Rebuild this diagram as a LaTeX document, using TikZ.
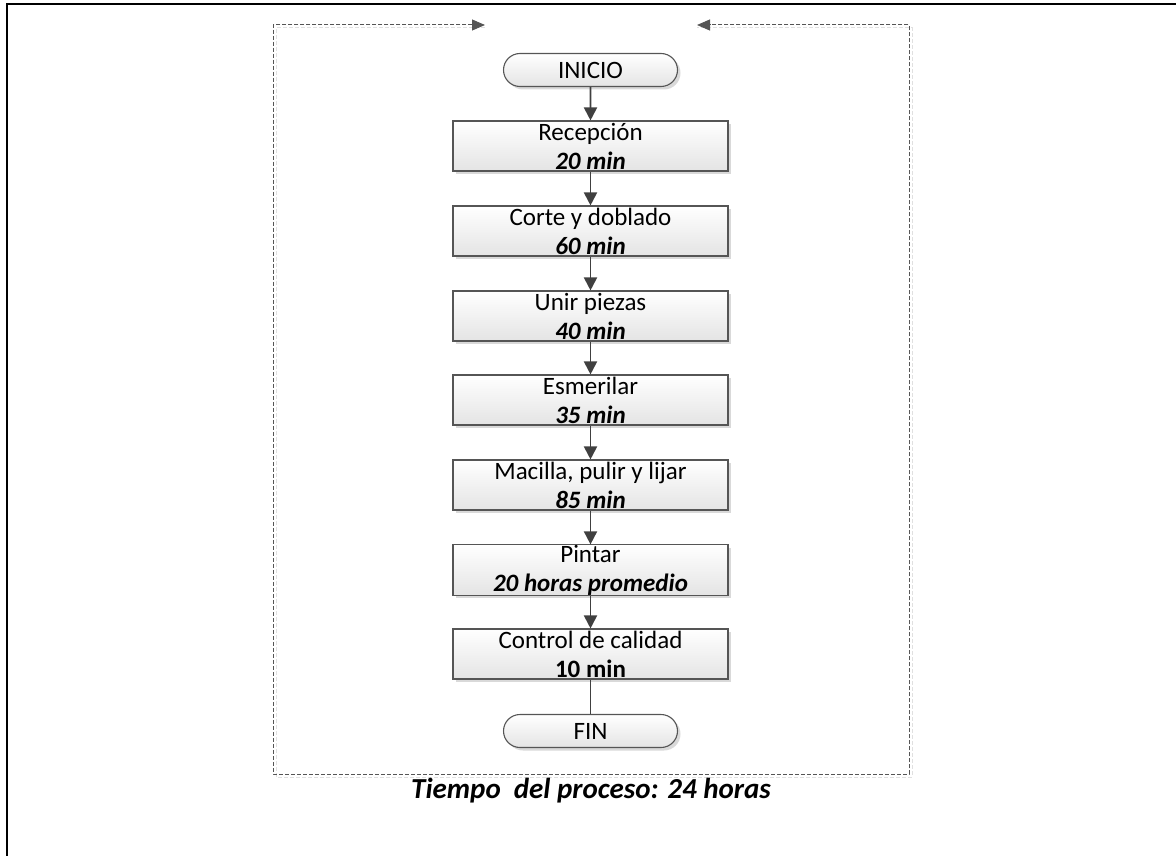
\documentclass[tikz,border=0pt]{standalone}
\usepackage{fontspec}
\setmainfont{Carlito}
\usetikzlibrary{arrows.meta,shapes.misc,shadows,positioning}
\definecolor{edge}{HTML}{555555}
\definecolor{conn}{HTML}{404040}
\definecolor{shade}{HTML}{E4E4E4}
\tikzset{
  procbox/.style={rectangle, draw=edge, line width=1.1pt, top color=white, bottom color=shade,
    minimum width=275pt, minimum height=50pt, align=center, inner sep=0pt,
    font=\fontsize{25}{29}\selectfont,
    drop shadow={shadow xshift=3pt, shadow yshift=-3pt, fill=black, opacity=0.15}},
  termbox/.style={rounded rectangle, draw=edge, line width=1.1pt, top color=white, bottom color=shade,
    minimum width=174pt, minimum height=33pt, inner sep=0pt,
    font=\fontsize{25}{29}\selectfont,
    drop shadow={shadow xshift=3pt, shadow yshift=-3pt, fill=black, opacity=0.15}},
  flow/.style={draw=conn, line width=1.9pt, -{Triangle[length=13pt,width=13pt]}},
  plainflow/.style={draw=conn, line width=1.2pt},
  frameline/.style={draw=edge, line width=1pt, dash pattern=on 4pt off 2pt,
    {Triangle[length=13pt,width=11pt]}-{Triangle[length=13pt,width=11pt]}},
  frameshadow/.style={draw=black!12, line width=1pt, dash pattern=on 4pt off 2pt},
  outer/.style={draw=black, line width=2.2pt},
  title/.style={font=\fontsize{29}{32}\selectfont\bfseries\itshape}
}
\begin{document}
\begin{tikzpicture}[x=1pt,y=-1pt]
\useasboundingbox (0,0) rectangle (1176,856);
% outer frame (top and left only)
\coordinate (o1) at (7,856);
\coordinate (o2) at (7,4);
\coordinate (o3) at (1176,4);
\draw[outer] (o1) -- (o2) -- (o3);
% dashed loop frame
\coordinate (t1) at (485,25);
\coordinate (t2) at (697,25);
\coordinate (c1) at (273,25);
\coordinate (c2) at (273,774);
\coordinate (c3) at (909,774);
\coordinate (c4) at (909,25);
\draw[frameshadow] ([shift={(0,3)}]t1) -- ([shift={(3,3)}]c1) -- ([shift={(3,3)}]c2) -- ([shift={(3,3)}]c3) -- ([shift={(3,3)}]c4) -- ([shift={(0,3)}]t2);
\draw[frameline] (t1) -- (c1) -- (c2) -- (c3) -- (c4) -- (t2);
% nodes
\node[termbox] (ini) at (590.5,70) {INICIO};
\node[procbox] (rec) at (590.5,146) {Recepción\\\textbf{\textit{20 min}}};
\node[procbox] (cor) at (590.5,231) {Corte y doblado\\\textbf{\textit{60 min}}};
\node[procbox] (uni) at (590.5,316) {Unir piezas\\\textbf{\textit{40 min}}};
\node[procbox] (esm) at (590.5,400) {Esmerilar\\\textbf{\textit{35 min}}};
\node[procbox] (mac) at (590.5,485) {Macilla, pulir y lijar\\\textbf{\textit{85 min}}};
\node[procbox] (pin) at (590.5,570) {Pintar\\\textbf{\textit{20 horas promedio}}};
\node[procbox] (con) at (590.5,654) {Control de calidad\\\textbf{10 min}};
\node[termbox] (fin) at (590.5,731) {FIN};
% connectors
\draw[flow] (ini) -- (rec);
\draw[flow] (rec) -- (cor);
\draw[flow] (cor) -- (uni);
\draw[flow] (uni) -- (esm);
\draw[flow] (esm) -- (mac);
\draw[flow] (mac) -- (pin);
\draw[flow] (pin) -- (con);
\draw[plainflow] (con) -- (fin);
% title
\node[title] (tit) at (591,791) {Tiempo\ \ del proceso: 24 horas};
\end{tikzpicture}
\end{document}
